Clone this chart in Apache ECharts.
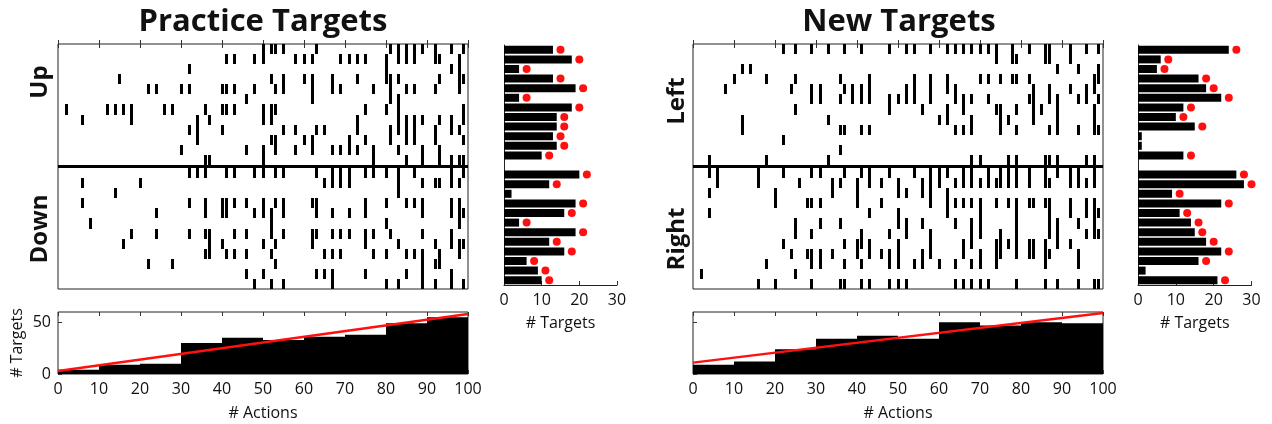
<!DOCTYPE html>
<html><head><meta charset="utf-8">
<script src="https://cdn.jsdelivr.net/npm/echarts@6/dist/echarts.min.js"></script>
<style>html,body{margin:0;padding:0;background:#fff}#c{width:1272px;height:424px}</style>
</head><body><div id="c"></div>
<script>
// ---------- DATA ----------
// Raster: action indices (0-100) of each tick, one list per target row
const practiceUp = [
  [50,52,53,55,63,81,83,85,87,89,92,96,99],
  [41,43,48,50,58,60,62,69,71,73,75,80,83,85,87,92,93,98],
  [32,80,96,98],
  [15,52,55,60,62,67,73,80,81,83,93,98,99],
  [22,24,30,32,40,41,43,48,53,55,62,67,69,77,81,85,87,92,98],
  [46,62,81,83],
  [2,12,14,16,18,26,28,36,40,41,43,50,52,53,75,80,83,99],
  [6,18,34,37,50,52,73,83,85,87,89,93,96,99],
  [32,34,40,55,58,63,65,73,81,83,85,87,92,96,98],
  [34,52,53,60,62,71,75,81,85,87,92,99],
  [30,46,50,53,58,62,67,69,71,73,77,83,89,93],
  [36,37,50,77,85,89,93,96,98,99]
];
const practiceDown = [
  [32,34,36,41,43,48,50,53,55,63,67,69,71,75,77,80,83,87,96,99],
  [6,20,65,67,69,71,83,89,92,93,96,98],
  [14,83],
  [6,32,36,40,41,43,46,50,53,55,62,63,75,80,85,87,89,96,98],
  [24,36,40,41,48,50,52,55,63,67,71,75,89,96,98,99],
  [8,52,80,98],
  [18,24,32,36,37,43,46,52,55,62,63,67,69,71,75,77,81,89,96],
  [16,37,40,50,53,62,75,83,92,96,98,99],
  [36,37,41,43,46,52,65,67,69,77,80,85,87,89,93,98],
  [22,28,53,89,92,93],
  [46,50,63,65,67,75,85,89,96],
  [48,52,55,67,80,83,89,92,96,99]
];
const newLeft = [
  [22,25,29,33,37,41,48,52,54,58,62,64,66,68,70,72,74,78,82,86,87,92,96,99],
  [74,78,79,86,87,92],
  [12,14,89,94,99],
  [10,18,25,36,43,54,58,62,70,72,75,78,79,82,98,99],
  [8,24,29,31,37,39,41,43,52,54,58,62,64,83,87,92,96,98],
  [29,31,36,39,41,43,48,50,52,54,58,64,66,68,72,82,83,87,89,94,96,99],
  [25,48,56,62,66,74,75,79,83,85,89,98],
  [12,33,60,62,68,75,77,83,89,98],
  [12,36,37,41,43,64,66,68,75,79,87,89,94,98,99],
  [22],
  [36],
  [4,18,33,68,70,77,79,86,87,89,96,98]
];
const newRight = [
  [4,6,16,22,29,31,37,41,43,48,54,58,60,62,66,68,72,75,77,79,82,86,89,92,94,98],
  [6,16,26,34,36,40,43,46,50,56,58,60,64,66,68,70,72,74,75,77,79,82,86,87,92,94,96,98],
  [4,20,34,40,50,52,56,58,62],
  [20,28,29,31,40,46,58,62,64,66,68,70,74,77,79,82,83,86,87,92,96,98],
  [4,43,50,62,70,79,87,92,96,98,99],
  [25,31,36,50,52,56,64,68,70,79,87,89,94,98],
  [25,29,41,48,52,58,68,70,75,79,87,89,96,98,99],
  [22,37,40,41,43,50,58,66,68,74,75,77,79,82,83,86,89,92],
  [24,28,29,31,34,40,43,46,48,50,56,58,66,70,74,75,79,82,83,86,87,94],
  [18,29,31,37,41,48,50,54,56,60,64,68,70,74,86,94],
  [2,25],
  [16,20,29,36,37,41,43,48,50,52,64,66,68,70,72,79,86,89,94,98,99]
];
// Bar panels: # targets per row (bars) and red dots
const practiceUpCounts   = [13,18,4,13,19,4,18,14,14,13,14,10];
const practiceDownCounts = [20,12,2,19,16,4,19,12,16,6,9,10];
const practiceUpDots     = [15,20,6,15,21,6,20,16,16,15,16,12];
const practiceDownDots   = [22,14,null,21,18,6,21,14,18,8,11,12];
const newLeftCounts  = [24,6,5,16,18,22,12,10,15,1,1,12];
const newRightCounts = [26,28,9,22,11,14,15,18,22,16,2,21];
const newLeftDots    = [26,8,7,18,20,24,14,12,17,null,null,14];
const newRightDots   = [28,30,11,24,13,16,17,20,24,18,null,23];
// Histograms (# targets per 10-action bin) and red fit lines
const binStarts     = [0,10,20,30,40,50,60,70,80,90];
const practiceHist  = [4,9,10,30,35,33,36,38,49,55];
const newHist       = [9,12,24,34,37,34,50,47,50,49];
const practiceFit   = [[0,3],[100,58]];
const newFit        = [[0,11],[100,59]];
// Tick labels
const actionTicks  = [0,10,20,30,40,50,60,70,80,90,100];
const targetTicks  = [0,10,20,30];
const histYTicks   = [0,50];

// ---------- BUILD ----------
const FONT = 'Open Sans';
const GAP = 0.3;           // separator band between the two row groups
const NROWS = 12;
function rasterData(top, bottom){
  const d = [];
  top.forEach((row,i)=>row.forEach(x=>d.push([x, i])));
  bottom.forEach((row,i)=>row.forEach(x=>d.push([x, NROWS+GAP+i])));
  return d;
}
const rowCats = [];
for (let i=0;i<2*NROWS+1;i++) rowCats.push('r'+i);
function barData(a,b){ return a.concat([null]).concat(b); }
function dotData(a,b){
  const all = a.concat([null]).concat(b);
  const d=[]; all.forEach((v,i)=>{ if(v!=null) d.push([v,i]); });
  return d;
}
function tickRender(params, api){
  const x = api.value(0), y0 = api.value(1);
  const p0 = api.coord([x, y0]);
  const p1 = api.coord([x, y0+1]);
  const xl = Math.round(p0[0]-1.5);
  const ya = Math.round(Math.min(p0[1],p1[1]));
  const yb = Math.round(Math.max(p0[1],p1[1]));
  return {type:'rect', shape:{x:xl, y:ya, width:3, height:yb-ya},
          style:{fill:'#000', stroke:null}};
}
function histRender(params, api){
  const x = api.value(0), v = api.value(1);
  const a = api.coord([x, v]);
  const b = api.coord([x+10, 0]);
  return {type:'rect', shape:{x:a[0], y:a[1], width:b[0]-a[0], height:b[1]-a[1]}, style:{fill:'#000'}};
}
function histData(h){ return h.map((v,i)=>[binStarts[i], v]); }

const grids = [
  {left:58,  top:44,  width:410, height:245, show:true, borderColor:'#222', borderWidth:1},
  {left:504, top:45,  width:113, height:240},
  {left:58,  top:312, width:410, height:62, show:true, borderColor:'#222', borderWidth:1},
  {left:693, top:44,  width:410, height:245, show:true, borderColor:'#222', borderWidth:1},
  {left:1138,top:45,  width:113.5, height:240},
  {left:693, top:312, width:410, height:62, show:true, borderColor:'#222', borderWidth:1}
];
const lblStyle = {fontFamily:FONT, fontSize:16, color:'#111'};
function rasterX(g,pos){
  return {gridIndex:g, type:'value', min:0, max:100, interval:10, position:pos,
    axisLine:{show:false}, axisLabel:{show:false}, splitLine:{show:false},
    axisTick:{show:true, inside:true, length:4, lineStyle:{color:'#333'}}};
}
function histX(g){
  return {gridIndex:g, type:'value', min:0, max:100, interval:10, position:'bottom',
    axisLine:{show:false}, splitLine:{show:false},
    axisTick:{show:true, inside:true, length:4, lineStyle:{color:'#333'}},
    axisLabel:Object.assign({margin:7, customValues:actionTicks}, lblStyle),
    name:'# Actions', nameLocation:'middle', nameGap:31, nameTextStyle:lblStyle};
}
function histXTop(g){
  return {gridIndex:g, type:'value', min:0, max:100, interval:10, position:'top',
    axisLine:{show:false}, splitLine:{show:false}, axisLabel:{show:false},
    axisTick:{show:true, inside:true, length:4, lineStyle:{color:'#333'}}};
}
function barX(g){
  return {gridIndex:g, type:'value', min:0, max:30, interval:10, position:'bottom',
    axisLine:{show:true, lineStyle:{color:'#222', width:1}}, splitLine:{show:false},
    axisTick:{show:true, inside:true, length:4, lineStyle:{color:'#333'}},
    axisLabel:Object.assign({margin:7, customValues:targetTicks}, lblStyle),
    name:'# Targets', nameLocation:'middle', nameGap:30, nameTextStyle:lblStyle};
}
const xAxes = [
  rasterX(0,'bottom'), rasterX(0,'top'),
  barX(1),
  histX(2), histXTop(2),
  rasterX(3,'bottom'), rasterX(3,'top'),
  barX(4),
  histX(5), histXTop(5)
];
function rasterY(g){
  return {gridIndex:g, type:'value', min:0, max:2*NROWS+GAP, inverse:true,
    axisLine:{show:false}, axisTick:{show:false}, axisLabel:{show:false}, splitLine:{show:false}};
}
function barY(g){
  return {gridIndex:g, type:'category', data:rowCats, inverse:true,
    axisLine:{show:true, lineStyle:{color:'#222', width:1}}, axisTick:{show:false},
    axisLabel:{show:false}, splitLine:{show:false}};
}
function histY(g, labels){
  return {gridIndex:g, type:'value', min:0, max:60, interval:10,
    axisLine:{show:false}, splitLine:{show:false},
    axisTick:{show:true, inside:true, length:4, customValues:histYTicks, lineStyle:{color:'#333'}},
    axisLabel:Object.assign({show:labels, margin:7, customValues:histYTicks}, lblStyle)};
}
const yAxes = [rasterY(0), barY(1), histY(2,true), rasterY(3), barY(4), histY(5,false)];

const sepLine = {silent:true, symbol:'none', label:{show:false},
  lineStyle:{color:'#000', width:3, type:'solid'}, data:[{yAxis:NROWS+GAP/2}]};

const series = [
  {type:'custom', xAxisIndex:0, yAxisIndex:0, renderItem:tickRender, data:rasterData(practiceUp, practiceDown),
   clip:true, markLine:sepLine},
  {type:'bar', xAxisIndex:2, yAxisIndex:1, data:barData(practiceUpCounts, practiceDownCounts),
   barWidth:8, itemStyle:{color:'#000'}},
  {type:'scatter', xAxisIndex:2, yAxisIndex:1, data:dotData(practiceUpDots, practiceDownDots),
   symbolSize:8, itemStyle:{color:'#ff1010', opacity:1}},
  {type:'custom', xAxisIndex:3, yAxisIndex:2, renderItem:histRender, data:histData(practiceHist)},
  {type:'line', xAxisIndex:3, yAxisIndex:2, data:practiceFit, symbol:'none',
   lineStyle:{color:'#ff1010', width:2.5}},
  {type:'custom', xAxisIndex:5, yAxisIndex:3, renderItem:tickRender, data:rasterData(newLeft, newRight),
   clip:true, markLine:sepLine},
  {type:'bar', xAxisIndex:7, yAxisIndex:4, data:barData(newLeftCounts, newRightCounts),
   barWidth:8, itemStyle:{color:'#000'}},
  {type:'scatter', xAxisIndex:7, yAxisIndex:4, data:dotData(newLeftDots, newRightDots),
   symbolSize:8, itemStyle:{color:'#ff1010', opacity:1}},
  {type:'custom', xAxisIndex:8, yAxisIndex:5, renderItem:histRender, data:histData(newHist)},
  {type:'line', xAxisIndex:8, yAxisIndex:5, data:newFit, symbol:'none',
   lineStyle:{color:'#ff1010', width:2.5}}
];

function txt(text, x, y, size, rot, weight){
  return {type:'text', x:x, y:y, rotation:rot||0, silent:true,
    style:{text:text, fill:'#111', font:(weight||'normal')+' '+size+'px "'+FONT+'"',
      textAlign:'center', textVerticalAlign:'middle'}};
}
const graphics = [
  txt('Practice Targets', 263, 22, 31, 0, 'bold'),
  txt('New Targets', 899, 22, 31, 0, 'bold'),
  txt('Up', 40, 82, 24, Math.PI/2, 'bold'),
  txt('Down', 40, 229, 24, Math.PI/2, 'bold'),
  txt('Left', 677, 101, 24, Math.PI/2, 'bold'),
  txt('Right', 677, 239, 24, Math.PI/2, 'bold'),
  txt('# Targets', 17, 343, 16, Math.PI/2, 'normal')
];

const chart = echarts.init(document.getElementById('c'), null, {renderer:'canvas'});
chart.setOption({
  animation:false,
  backgroundColor:'#fff',
  grid:grids, xAxis:xAxes, yAxis:yAxes, series:series, graphic:graphics
});
</script>
</body></html>
